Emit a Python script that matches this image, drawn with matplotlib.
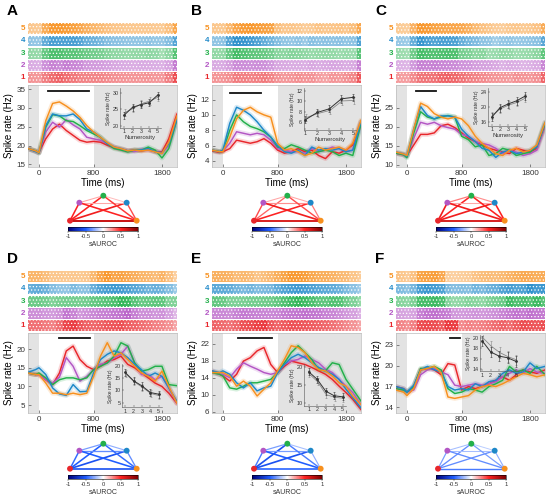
import numpy as np
import matplotlib
matplotlib.use("Agg")
import matplotlib.pyplot as plt
from matplotlib.colors import LinearSegmentedColormap, Normalize, to_rgb
from matplotlib.cm import ScalarMappable

plt.rcParams['font.family'] = ['Liberation Sans', 'DejaVu Sans']
plt.rcParams['hatch.linewidth'] = 0.5

# ---------------- data ----------------
time_ms = [-160, -50, 0, 100, 200, 300, 400, 500, 600, 700, 800, 900, 1000,
           1100, 1200, 1300, 1400, 1500, 1600, 1700, 1800, 1900, 2020]
numerosity = [1, 2, 3, 4, 5]
series_labels = ['1', '2', '3', '4', '5']
panel_letters = ['A', 'B', 'C', 'D', 'E', 'F']
x_ticks = [0, 800, 1800]

# spike rates, order: numerosity 1,2,3,4,5
rate_A = [
    [19.2, 18.5, 18.2, 21.8, 24.4, 25.7, 24.0, 22.7, 21.4, 20.9, 21.1, 20.9, 20.1, 19.4, 19.0, 18.6, 18.8, 18.6, 18.9, 18.4, 18.3, 21.8, 28.4],
    [19.2, 18.5, 18.0, 23.6, 26.2, 24.9, 26.9, 25.5, 24.4, 22.2, 21.8, 21.4, 20.5, 19.6, 19.0, 18.6, 18.4, 19.0, 18.8, 18.5, 18.0, 20.0, 27.2],
    [19.2, 18.6, 18.0, 24.9, 28.2, 27.9, 26.6, 26.4, 25.3, 24.0, 23.1, 22.2, 20.5, 19.2, 18.8, 18.3, 18.8, 18.8, 19.6, 18.8, 16.7, 19.2, 27.0],
    [19.2, 18.4, 18.1, 25.3, 28.4, 27.9, 27.9, 28.4, 26.9, 24.4, 23.6, 22.2, 20.5, 19.6, 19.2, 18.6, 18.8, 18.8, 19.2, 18.3, 18.1, 20.5, 27.0],
    [19.2, 18.6, 18.1, 26.6, 31.2, 31.6, 30.5, 29.2, 27.5, 25.3, 23.6, 22.2, 20.8, 19.6, 19.2, 18.6, 18.8, 18.6, 18.8, 18.3, 17.9, 20.9, 27.9],
]
rate_B = [
    [5.3, 5.1, 5.2, 5.6, 6.7, 6.5, 6.3, 6.5, 6.9, 6.3, 5.4, 5.0, 5.2, 5.6, 5.2, 5.4, 4.7, 4.3, 5.2, 5.0, 5.4, 6.1, 9.1],
    [5.4, 5.2, 5.3, 6.3, 7.8, 7.6, 7.4, 7.6, 7.4, 6.7, 5.6, 5.4, 5.2, 5.2, 5.0, 5.6, 5.2, 5.4, 5.8, 5.6, 5.2, 5.4, 8.8],
    [5.4, 5.2, 5.3, 8.0, 10.0, 9.1, 8.5, 8.2, 7.8, 7.1, 5.8, 5.6, 6.1, 5.8, 5.4, 5.0, 5.2, 5.4, 5.2, 4.7, 5.0, 4.7, 8.8],
    [5.4, 5.2, 5.4, 8.9, 11.0, 10.6, 10.0, 9.1, 8.0, 7.1, 6.0, 5.2, 5.0, 5.4, 4.7, 5.8, 5.4, 5.6, 5.4, 5.6, 5.2, 5.4, 9.1],
    [5.4, 5.2, 5.2, 7.1, 9.5, 10.6, 11.0, 10.4, 10.0, 9.7, 6.3, 5.4, 5.6, 5.2, 4.7, 5.0, 5.8, 5.4, 5.6, 5.8, 5.4, 6.3, 9.3],
]
rate_C = [
    [13.0, 12.6, 12.4, 15.2, 18.0, 18.0, 18.4, 20.3, 20.7, 19.8, 18.4, 17.0, 16.1, 15.2, 14.3, 13.8, 13.3, 12.9, 14.3, 13.8, 13.3, 14.3, 20.3],
    [13.0, 12.6, 12.2, 17.0, 21.2, 20.7, 21.2, 20.3, 19.8, 19.4, 18.0, 17.5, 16.1, 15.6, 15.2, 14.3, 12.9, 13.8, 13.3, 12.4, 12.9, 13.8, 20.3],
    [13.0, 12.6, 11.8, 18.4, 24.0, 22.6, 22.1, 22.6, 23.0, 22.6, 17.5, 16.6, 14.7, 15.2, 12.4, 12.9, 14.3, 13.8, 12.4, 12.9, 13.3, 14.7, 20.7],
    [13.3, 12.8, 12.2, 19.4, 25.4, 23.0, 22.1, 22.9, 22.9, 22.6, 19.4, 17.5, 16.1, 14.3, 13.8, 11.9, 13.3, 13.8, 12.9, 13.3, 13.8, 14.7, 21.2],
    [13.3, 12.8, 12.4, 19.4, 26.3, 25.4, 23.5, 22.6, 22.1, 22.6, 22.1, 20.3, 17.5, 15.6, 14.3, 12.9, 12.4, 13.8, 14.3, 13.3, 13.8, 15.2, 21.2],
]
rate_D = [
    [13.6, 13.2, 13.2, 11.8, 10.5, 13.6, 19.5, 20.8, 17.2, 15.4, 14.5, 15.4, 16.8, 17.2, 18.1, 15.9, 15.0, 13.6, 12.3, 10.9, 10.0, 8.2, 5.5],
    [13.6, 13.2, 13.2, 11.8, 10.9, 12.5, 17.7, 15.4, 11.4, 12.7, 14.5, 15.9, 16.3, 17.7, 18.6, 20.8, 16.3, 13.2, 13.2, 11.8, 12.7, 9.6, 5.5],
    [13.6, 13.2, 13.6, 12.3, 10.5, 11.8, 12.3, 12.3, 11.8, 12.3, 14.5, 15.4, 16.3, 18.1, 21.7, 20.8, 16.3, 14.1, 14.5, 15.4, 15.4, 10.5, 10.2],
    [13.8, 14.5, 15.0, 13.2, 9.6, 8.0, 7.6, 10.5, 8.6, 8.7, 13.6, 17.2, 18.6, 19.5, 19.0, 17.7, 15.9, 14.5, 12.7, 13.6, 12.7, 9.6, 6.0],
    [13.6, 13.2, 13.2, 10.9, 8.2, 8.2, 7.8, 8.2, 7.8, 8.2, 12.7, 18.1, 21.7, 18.1, 19.0, 17.2, 15.4, 13.6, 12.7, 11.4, 14.1, 10.0, 5.5],
]
rate_E = [
    [15.6, 14.8, 14.4, 13.2, 14.8, 17.9, 18.7, 20.3, 21.1, 17.1, 15.2, 16.7, 17.9, 17.5, 17.1, 16.4, 15.6, 14.8, 13.6, 12.0, 10.5, 8.9, 6.5],
    [15.2, 14.8, 14.8, 14.0, 16.0, 17.5, 16.7, 16.0, 15.2, 14.8, 15.2, 17.1, 17.9, 18.3, 19.1, 18.3, 17.5, 16.0, 15.2, 13.6, 12.0, 10.5, 7.7],
    [15.2, 14.8, 14.4, 11.6, 11.3, 12.0, 12.8, 12.8, 13.2, 13.6, 15.2, 17.5, 19.9, 21.5, 19.9, 18.3, 15.9, 15.6, 17.5, 17.1, 13.6, 11.3, 8.5],
    [15.6, 15.2, 15.6, 14.8, 12.8, 11.6, 12.8, 10.9, 11.6, 12.0, 15.2, 17.1, 18.7, 19.5, 18.7, 17.5, 16.4, 15.6, 14.8, 13.6, 11.3, 9.3, 6.9],
    [15.2, 15.2, 15.2, 14.4, 12.0, 13.2, 12.0, 9.7, 11.3, 12.8, 15.6, 18.3, 21.5, 21.1, 19.9, 17.5, 15.9, 15.6, 14.4, 12.8, 12.0, 9.7, 7.7],
]
rate_F = [
    [17.0, 16.7, 16.2, 17.0, 19.4, 19.6, 19.4, 18.7, 20.3, 20.1, 16.5, 17.0, 16.7, 17.0, 17.4, 17.9, 18.4, 17.9, 18.7, 19.4, 19.1, 18.9, 19.4],
    [16.7, 16.5, 16.2, 16.5, 18.7, 19.4, 19.6, 19.1, 18.7, 17.2, 17.0, 17.2, 17.4, 17.2, 17.4, 17.7, 18.4, 18.9, 19.4, 18.9, 19.6, 19.1, 18.9],
    [16.7, 16.5, 16.2, 17.0, 19.6, 19.6, 19.9, 19.4, 16.7, 16.0, 16.2, 16.7, 16.5, 16.2, 17.0, 17.4, 17.9, 19.9, 19.1, 19.4, 18.9, 19.9, 18.7],
    [17.0, 16.7, 16.2, 17.2, 19.4, 19.9, 19.4, 19.1, 17.0, 16.5, 16.7, 16.5, 17.4, 17.0, 17.7, 17.9, 18.9, 19.4, 18.9, 19.1, 20.4, 19.6, 19.9],
    [16.5, 16.2, 15.7, 16.7, 19.4, 19.6, 19.9, 19.0, 15.5, 15.3, 15.5, 15.7, 16.5, 17.0, 17.2, 17.0, 17.4, 17.9, 18.4, 18.9, 18.7, 18.4, 18.7],
]

ylim_main = [(14.3, 36.1), (3.2, 13.9), (9.35, 31.1), (2.9, 24.3), (5.7, 24.5), (13.2, 24.7)]
yticks_main = [[15, 20, 25, 30, 35], [4, 6, 8, 10, 12], [10, 15, 20, 25],
               [5, 10, 15, 20], [6, 10, 14, 18, 22], [14, 17, 20, 23]]

# significance window bars: start (ms), end (ms), height (Hz)
sig_start = [132, 109, 139, 293, 216, 632]
sig_end = [732, 563, 426, 741, 721, 775]
sig_level = [34.4, 12.9, 29.6, 23.0, 23.3, 24.0]

# tuning insets: two traces with error bars
tune1_A = [23.2, 25.6, 26.4, 27.0, 29.3]
tune2_A = [24.0, 25.2, 26.7, 27.5, 28.7]
tune1_B = [6.5, 7.9, 8.6, 10.5, 10.8]
tune2_B = [6.9, 7.7, 8.3, 10.1, 10.2]
tune1_C = [17.3, 19.8, 20.8, 21.6, 22.8]
tune2_C = [17.8, 19.5, 20.5, 21.2, 22.3]
tune1_D = [17.3, 13.9, 11.8, 9.1, 8.4]
tune2_D = [16.8, 13.5, 11.2, 8.7, 7.8]
tune1_E = [18.6, 16.5, 13.2, 11.9, 11.6]
tune2_E = [18.0, 15.8, 12.2, 11.5, 11.2]
tune1_F = [19.4, 17.3, 16.5, 16.2, 15.5]
tune2_F = [20.0, 18.4, 17.2, 16.4, 15.8]
tune_err = [1.1, 0.7, 1.0, 1.5, 1.0, 1.0]
inset_ylim = [(19.4, 31.4), (4.6, 12.6), (15.0, 24.9), (3.0, 20.7), (9.1, 20.7), (13.6, 20.6)]
inset_yticks = [[20, 25, 30], [6, 8, 10, 12], [16, 20, 24], [5, 10, 15, 20], [10, 15, 20], [14, 16, 18, 20]]

# pairwise sAUROC between numerosities
node_pairs = [(1, 2), (1, 3), (1, 4), (1, 5), (2, 3), (2, 4), (2, 5), (3, 4), (3, 5), (4, 5)]
sauroc_A = [0.5, 0.5, 0.55, 0.7, 0.2, 0.2, 0.5, 0.15, 0.45, 0.4]
sauroc_B = [0.4, 0.35, 0.5, 0.65, 0.2, 0.25, 0.55, 0.2, 0.4, 0.3]
sauroc_C = [0.55, 0.5, 0.55, 0.65, 0.3, 0.2, 0.55, 0.25, 0.5, 0.5]
sauroc_D = [-0.45, -0.5, -0.55, -0.55, -0.3, -0.35, -0.5, -0.25, -0.45, -0.35]
sauroc_E = [-0.4, -0.55, -0.55, -0.5, -0.3, -0.3, -0.5, -0.2, -0.4, -0.25]
sauroc_F = [-0.3, -0.35, -0.35, -0.4, -0.2, -0.2, -0.35, -0.15, -0.3, -0.25]
cbar_ticks = [-1, -0.5, 0, 0.5, 1]
cbar_ticklabels = ['-1', '-0.5', '0', '0.5', '1']

rates_all = [rate_A, rate_B, rate_C, rate_D, rate_E, rate_F]
tune1_all = [tune1_A, tune1_B, tune1_C, tune1_D, tune1_E, tune1_F]
tune2_all = [tune2_A, tune2_B, tune2_C, tune2_D, tune2_E, tune2_F]
sauroc_all = [sauroc_A, sauroc_B, sauroc_C, sauroc_D, sauroc_E, sauroc_F]

# ---------------- style / layout ----------------
series_colors = ['#e8262b', '#b356c4', '#23b04b', '#1e88c8', '#f7901e']
shade = '#e3e3e3'
cmap = LinearSegmentedColormap.from_list(
    'sauroc', ['#000078', '#1e5cff', '#ffffff', '#ff2222', '#7a0000'])

W, H = 550, 500
fig = plt.figure(figsize=(5.5, 5.0), dpi=100)


def box(x0, y0, x1, y1):
    return [x0 / W, 1 - y1 / H, (x1 - x0) / W, (y1 - y0) / H]


col_left = [28, 212, 396]
row_off = [0, 248]
AX_W = 149
XL = (-160, 2020)

inset_boxes = [[0.62, 0.48, 0.27, 0.48], [0.615, 0.455, 0.35, 0.51], [0.62, 0.50, 0.26, 0.46],
               [0.63, 0.07, 0.27, 0.54], [0.62, 0.09, 0.28, 0.52], [0.565, 0.52, 0.26, 0.46]]
inset_xlim = [(0.55, 5.36), (0.86, 5.2), (0.6, 5.28), (0.6, 5.4), (0.5, 5.4), (0.75, 5.35)]
show_numerosity = [True, True, True, False, False, False]

node_x = [0.0, 0.14, 0.5, 0.85, 1.0]
node_y = [0.0, 0.72, 1.0, 0.72, 0.0]

t = np.array(time_ms, dtype=float)
t_edges = np.concatenate([[XL[0]], (t[:-1] + t[1:]) / 2, [XL[1]]])

for p in range(6):
    cx = col_left[p % 3]
    off = row_off[p // 3]
    rates = rates_all[p]

    # panel letter
    fig.text((cx - 21) / W, 1 - (off + 11) / H, panel_letters[p], fontsize=11,
             fontweight='bold', ha='left', va='center')

    # ---- raster-like bands ----
    rax = fig.add_axes(box(cx, off + 22.5, cx + AX_W, off + 84))
    rax.set_xlim(*XL)
    rax.set_ylim(0, 5)
    rax.axis('off')
    allr = np.array(rates)
    lo, hi = allr.min(), allr.max()
    for k in range(5):
        r = np.array(rates[k])
        frac = 0.42 + 0.5 * (r - lo) / (hi - lo)
        rgb = np.array(to_rgb(series_colors[k]))
        cols = 1 - frac[:, None] * (1 - rgb)
        rax.bar(t_edges[:-1], 0.88, width=np.diff(t_edges), bottom=k + 0.06,
                color=cols, align='edge', linewidth=0)
        rax.bar(XL[0], 0.88, width=XL[1] - XL[0], bottom=k + 0.06, align='edge',
                fill=False, hatch='.....', edgecolor='white', linewidth=0)
        yc = off + 22.5 + (5 - k - 0.5) * (61.5 / 5)
        fig.text((cx - 3) / W, 1 - yc / H, series_labels[k], color=series_colors[k],
                 fontsize=5.8, fontweight='bold', ha='right', va='center')

    # ---- main PSTH ----
    ax = fig.add_axes(box(cx, off + 85, cx + AX_W, off + 167 if off == 0 else off + 165))
    ax.set_xlim(*XL)
    ax.set_ylim(*ylim_main[p])
    ax.axvspan(XL[0], 0, color=shade, lw=0, zorder=0)
    ax.axvspan(800, XL[1], color=shade, lw=0, zorder=0)
    for k in range(5):
        ax.plot(time_ms, rates[k], color=series_colors[k], lw=3.5, alpha=0.18,
                solid_capstyle='round', zorder=2)
    for k in range(5):
        ax.plot(time_ms, rates[k], color=series_colors[k], lw=1.05, zorder=3)
    ax.plot([sig_start[p], sig_end[p]], [sig_level[p]] * 2, color='#111111', lw=1.3, zorder=4)
    ax.set_xticks(x_ticks)
    ax.set_yticks(yticks_main[p])
    ax.tick_params(direction='in', length=2, width=0.4, labelsize=5.8, pad=2,
                   colors='#333333')
    for s in ax.spines.values():
        s.set_color('#bbbbbb')
        s.set_linewidth(0.5)
    ax.set_ylabel('Spike rate (Hz)', fontsize=7, labelpad=1.5)
    ax.set_xlabel('Time (ms)', fontsize=7, labelpad=1)

    # ---- inset tuning ----
    ins = ax.inset_axes(inset_boxes[p])
    ins.patch.set_alpha(0)
    ins.errorbar(np.array(numerosity) + 0.06, tune2_all[p], yerr=tune_err[p],
                 color='#888888', lw=0.6, elinewidth=0.4, capsize=1.0, capthick=0.4,
                 zorder=2)
    ins.errorbar(numerosity, tune1_all[p], yerr=tune_err[p], color='#333333', lw=0.7,
                 elinewidth=0.4, capsize=1.0, capthick=0.4, marker='o', ms=1.0, zorder=3)
    ins.set_xlim(*inset_xlim[p])
    ins.set_ylim(*inset_ylim[p])
    ins.set_xticks(numerosity)
    ins.set_yticks(inset_yticks[p])
    ins.tick_params(direction='in', length=1.2, width=0.3, labelsize=3.9, pad=1,
                    colors='#333333')
    for side in ['top', 'right']:
        ins.spines[side].set_visible(False)
    for side in ['left', 'bottom']:
        ins.spines[side].set_linewidth(0.4)
        ins.spines[side].set_color('#555555')
    ins.set_ylabel('Spike rate (Hz)', fontsize=3.6, labelpad=1, color='#333333')
    if show_numerosity[p]:
        ins.set_xlabel('Numerosity', fontsize=4.4, labelpad=0.5, color='#333333')

    # ---- network of pairwise sAUROC ----
    nax = fig.add_axes(box(cx + 38, off + 192, cx + 113, off + 225))
    nax.set_xlim(-0.06, 1.065)
    nax.set_ylim(-0.172, 1.148)
    nax.axis('off')
    for (i, j), v in zip(node_pairs, sauroc_all[p]):
        nax.plot([node_x[i - 1], node_x[j - 1]], [node_y[i - 1], node_y[j - 1]],
                 color=cmap((v + 1) / 2), lw=0.5 + 1.3 * abs(v), zorder=1)
    nax.scatter(node_x, node_y, s=18, c=series_colors, zorder=3, linewidths=0)

    # ---- colorbar ----
    cax = fig.add_axes(box(cx + 40.3, off + 226.7, cx + 110.3, off + 231.3))
    cb = fig.colorbar(ScalarMappable(norm=Normalize(-1, 1), cmap=cmap), cax=cax,
                      orientation='horizontal', ticks=cbar_ticks)
    cb.ax.set_xticklabels(cbar_ticklabels)
    cb.ax.tick_params(length=1.2, width=0.3, labelsize=4.2, pad=1, colors='#333333')
    cb.outline.set_linewidth(0.4)
    cb.set_label('sAUROC', fontsize=5, labelpad=1, color='#333333')

fig.savefig('out.png', dpi=100)
